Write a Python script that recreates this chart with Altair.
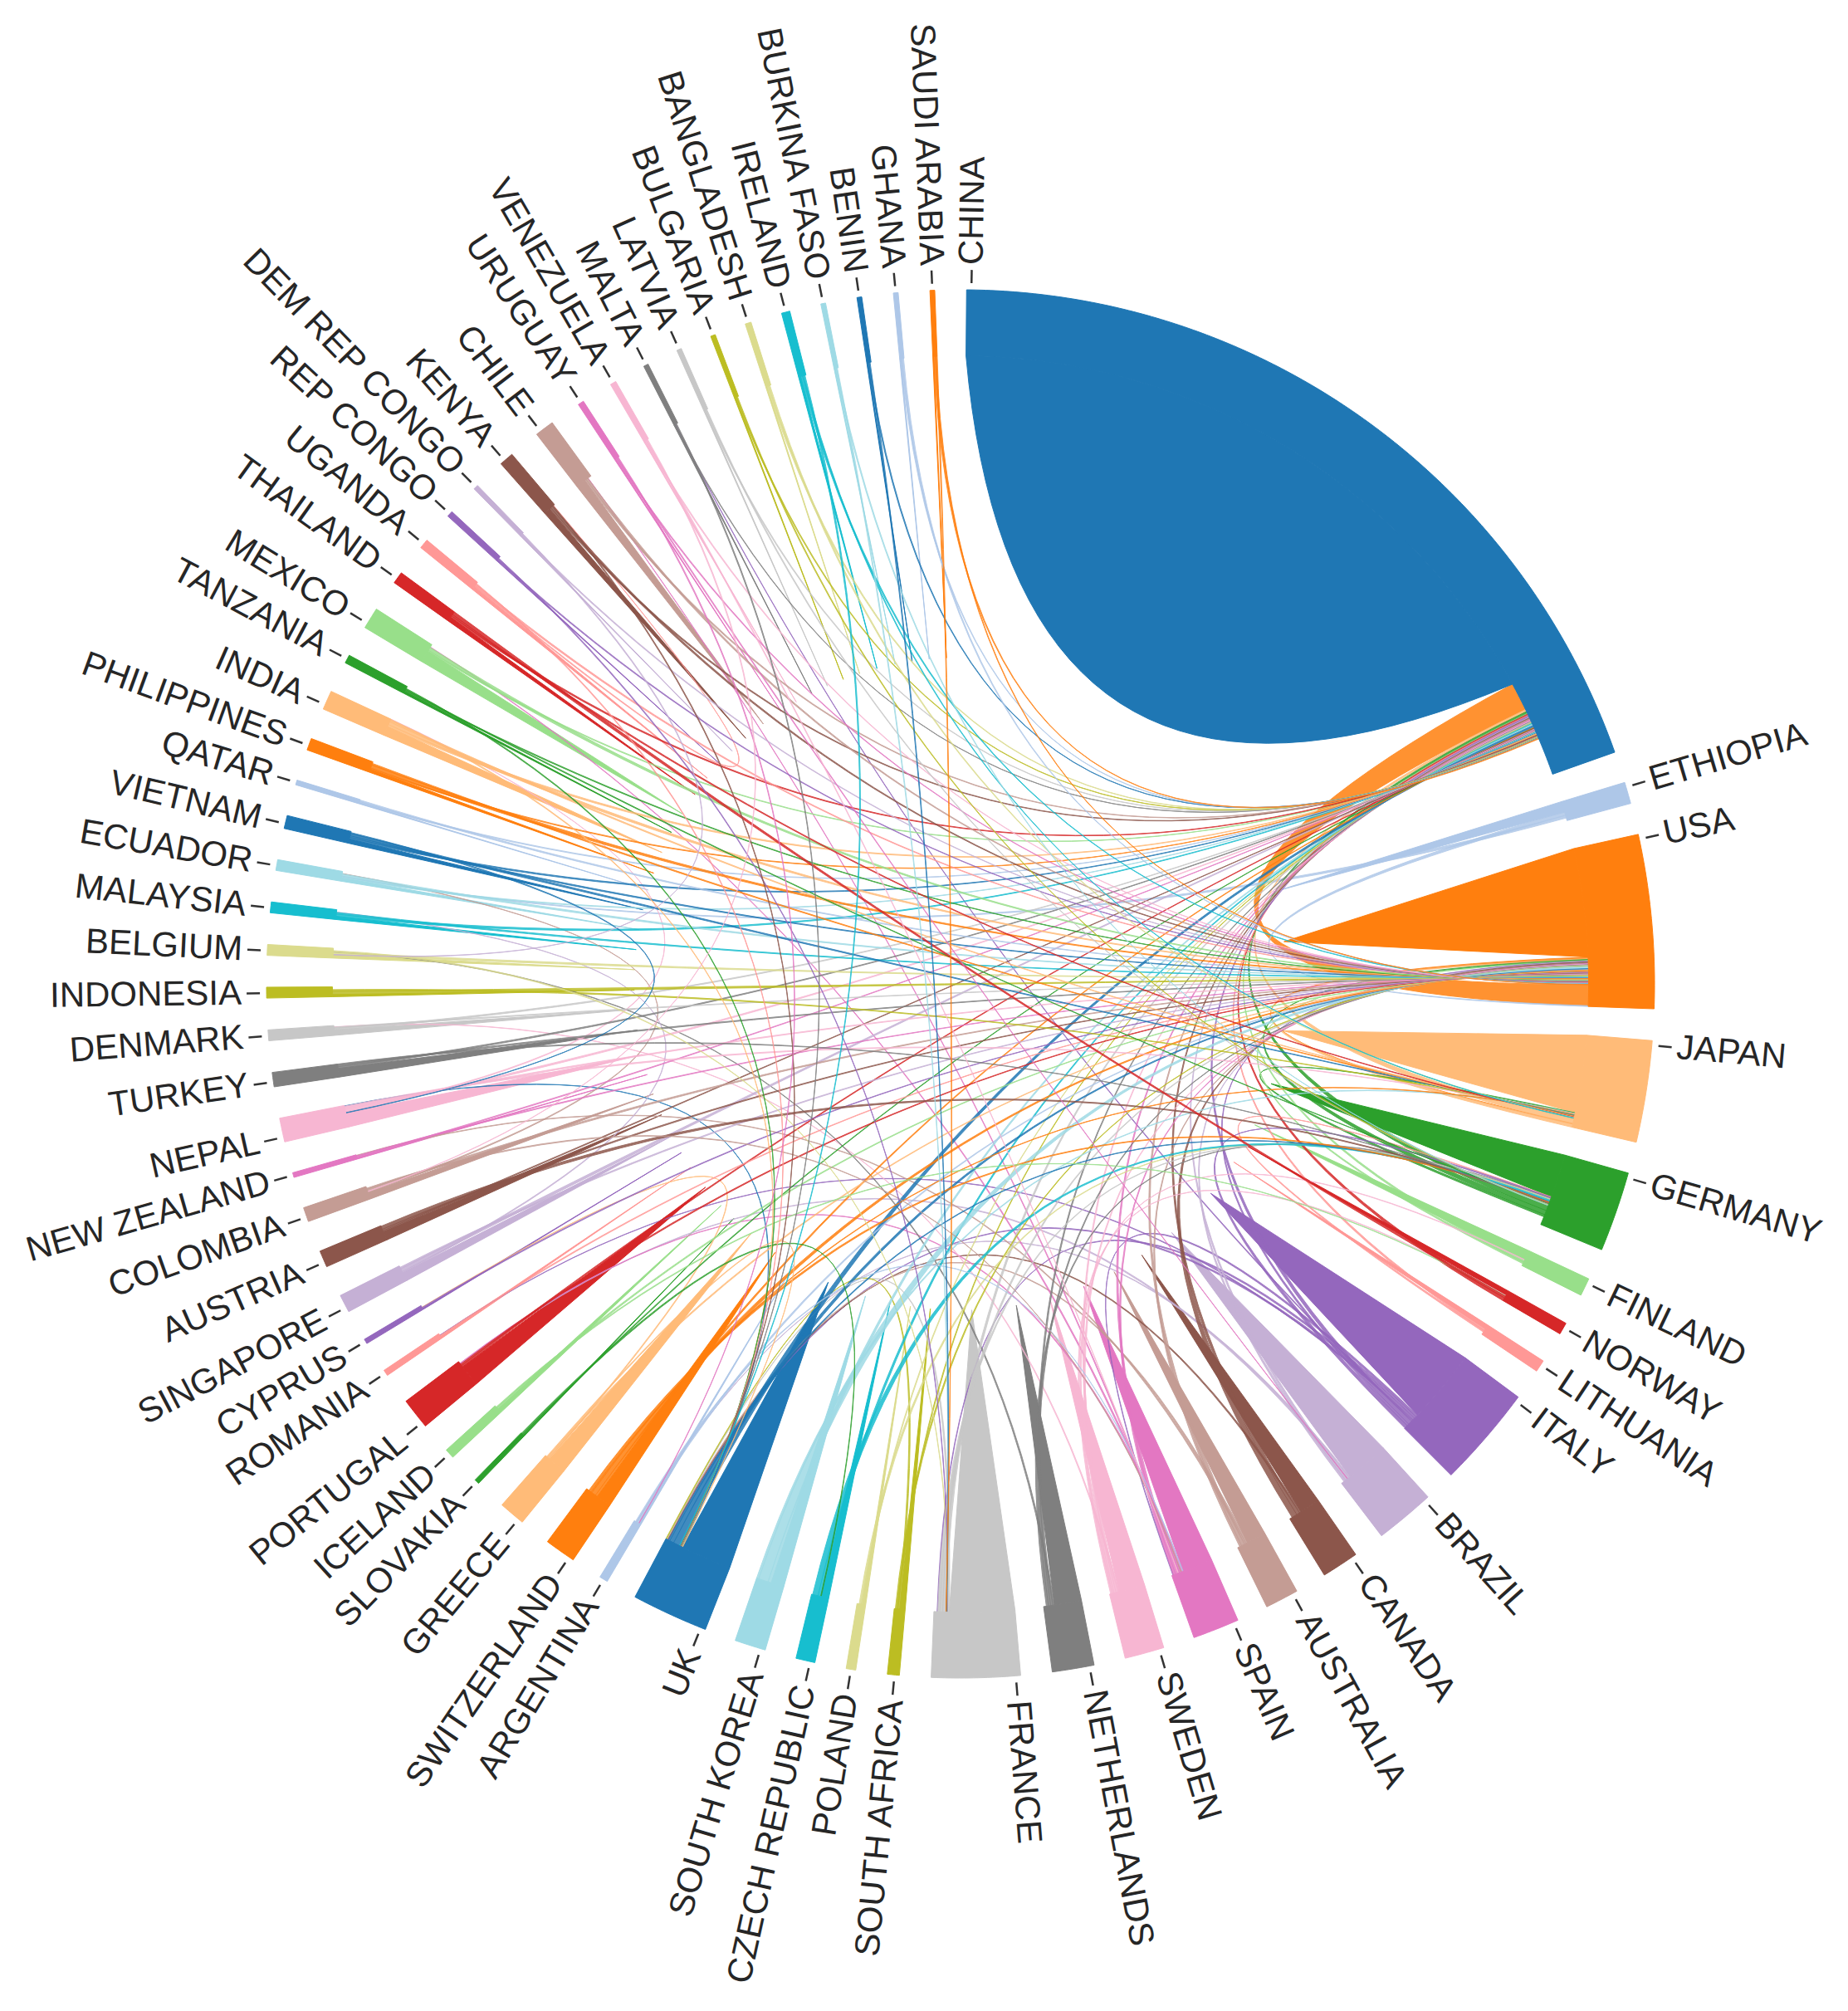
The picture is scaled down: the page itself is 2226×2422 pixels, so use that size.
import math
import pandas as pd
import altair as alt

alt.data_transformers.disable_max_rows()

# ---------------- data ----------------
COUNTRIES = ["CHINA", "ETHIOPIA", "USA", "JAPAN", "GERMANY", "FINLAND", "NORWAY", "LITHUANIA",
             "ITALY", "BRAZIL", "CANADA", "AUSTRALIA", "SPAIN", "SWEDEN", "NETHERLANDS", "FRANCE",
             "SOUTH AFRICA", "POLAND", "CZECH REPUBLIC", "SOUTH KOREA", "UK", "ARGENTINA",
             "SWITZERLAND", "GREECE", "SLOVAKIA", "ICELAND", "PORTUGAL", "ROMANIA", "CYPRUS",
             "SINGAPORE", "AUSTRIA", "COLOMBIA", "NEW ZEALAND", "NEPAL", "TURKEY", "DENMARK",
             "INDONESIA", "BELGIUM", "MALAYSIA", "ECUADOR", "VIETNAM", "QATAR", "PHILIPPINES",
             "INDIA", "TANZANIA", "MEXICO", "THAILAND", "UGANDA", "REP CONGO", "DEM REP CONGO",
             "KENYA", "CHILE", "URUGUAY", "VENEZUELA", "MALTA", "LATVIA", "BULGARIA", "BANGLADESH",
             "IRELAND", "BURKINA FASO", "BENIN", "GHANA", "SAUDI ARABIA"]

# sector sizes (degrees of the circle)
SPANS = [70.0, 1.8, 14.5, 8.5, 6.7, 1.5, 1.0, 1.0, 8.5, 5.0, 3.1, 2.8, 3.9, 3.3, 3.5, 7.4,
         1.0, 0.8, 1.6, 2.6, 6.4, 0.7, 2.6, 2.2, 0.4, 0.8, 2.6, 0.5, 0.4, 1.5, 1.4, 1.2, 0.4,
         2.0, 1.2, 0.9, 0.9, 0.9, 0.9, 0.9, 1.1, 0.4, 1.0, 1.6, 0.7, 1.8, 1.0, 0.8, 0.5, 0.4,
         1.2, 1.6, 0.5, 0.5, 0.4, 0.4, 0.4, 0.5, 0.7, 0.4, 0.4, 0.4, 0.4]

# domestic (self) collaboration share of each sector
SELF = [61.0, 1.0, 13.0, 7.4, 4.0, 0.9, 0.5, 0.4, 6.8, 4.0, 1.9, 1.8, 2.8, 2.4, 2.5, 6.0,
        0.5, 0.3, 0.7, 1.2, 4.8, 0.2, 1.4, 1.7, 0.1, 0.4, 2.0, 0.2, 0.1, 0.8, 0.8, 0.6, 0.1,
        1.3, 0.8, 0.5, 0.2, 0.3, 0.3, 0.3, 0.4, 0.1, 0.3, 0.9, 0.2, 1.1, 0.4, 0.3, 0.1, 0.1,
        0.6, 0.9, 0.1, 0.1, 0.1, 0.1, 0.1, 0.1, 0.2, 0.1, 0.1, 0.1, 0.1]

# links: source, target, width at source end, width at target end
LINKS = [
    ("USA", "CHINA", 2.5, 2.6), ("USA", "JAPAN", 0.2, 0.06),
    ("ETHIOPIA", "USA", 0.3, 0.09), ("ETHIOPIA", "ECUADOR", 0.25, 0.08),
    ("JAPAN", "CHINA", 0.5, 0.2), ("JAPAN", "USA", 0.3, 0.09),
    ("GERMANY", "CHINA", 0.5, 0.2), ("GERMANY", "USA", 0.4, 0.12), ("GERMANY", "JAPAN", 0.2, 0.06),
    ("FINLAND", "CHINA", 0.2, 0.06), ("FINLAND", "USA", 0.15, 0.05),
    ("NORWAY", "CHINA", 0.3, 0.12),
    ("LITHUANIA", "CHINA", 0.2, 0.06), ("LITHUANIA", "GERMANY", 0.15, 0.05),
    ("ITALY", "CHINA", 0.35, 0.14), ("ITALY", "USA", 0.2, 0.06), ("ITALY", "GERMANY", 0.3, 0.09),
    ("ITALY", "SPAIN", 0.2, 0.06), ("ITALY", "FRANCE", 0.2, 0.06), ("ITALY", "UK", 0.2, 0.06),
    ("ITALY", "MALTA", 0.1, 0.03), ("ITALY", "ROMANIA", 0.1, 0.03),
    ("BRAZIL", "USA", 0.2, 0.06), ("BRAZIL", "CHINA", 0.2, 0.06), ("BRAZIL", "PORTUGAL", 0.2, 0.06),
    ("BRAZIL", "ARGENTINA", 0.1, 0.03),
    ("CANADA", "USA", 0.5, 0.15), ("CANADA", "CHINA", 0.3, 0.09), ("CANADA", "UK", 0.15, 0.05),
    ("AUSTRALIA", "CHINA", 0.3, 0.09), ("AUSTRALIA", "USA", 0.2, 0.06),
    ("AUSTRALIA", "NEW ZEALAND", 0.15, 0.05), ("AUSTRALIA", "UK", 0.15, 0.05),
    ("SPAIN", "CHINA", 0.25, 0.1), ("SPAIN", "USA", 0.2, 0.06), ("SPAIN", "MEXICO", 0.15, 0.05),
    ("SPAIN", "CHILE", 0.1, 0.03), ("SPAIN", "PORTUGAL", 0.15, 0.05),
    ("SWEDEN", "CHINA", 0.2, 0.06), ("SWEDEN", "USA", 0.2, 0.06), ("SWEDEN", "FINLAND", 0.15, 0.05),
    ("SWEDEN", "NORWAY", 0.15, 0.05), ("SWEDEN", "DENMARK", 0.1, 0.03),
    ("NETHERLANDS", "CHINA", 0.2, 0.06), ("NETHERLANDS", "USA", 0.2, 0.06),
    ("NETHERLANDS", "GERMANY", 0.2, 0.06), ("NETHERLANDS", "BELGIUM", 0.15, 0.05),
    ("FRANCE", "CHINA", 0.3, 0.09), ("FRANCE", "USA", 0.25, 0.08), ("FRANCE", "GERMANY", 0.2, 0.06),
    ("FRANCE", "UK", 0.15, 0.05),
    ("SOUTH AFRICA", "UK", 0.15, 0.05), ("SOUTH AFRICA", "USA", 0.15, 0.05), ("SOUTH AFRICA", "CHINA", 0.1, 0.03),
    ("POLAND", "GERMANY", 0.2, 0.06), ("POLAND", "CHINA", 0.1, 0.03),
    ("CZECH REPUBLIC", "GERMANY", 0.5, 0.15), ("CZECH REPUBLIC", "CHINA", 0.25, 0.1),
    ("SOUTH KOREA", "USA", 0.9, 0.27), ("SOUTH KOREA", "CHINA", 0.3, 0.12), ("SOUTH KOREA", "JAPAN", 0.2, 0.06),
    ("UK", "CHINA", 0.6, 0.2), ("UK", "USA", 0.4, 0.12), ("UK", "GERMANY", 0.15, 0.05), ("UK", "NEPAL", 0.1, 0.03),
    ("ARGENTINA", "USA", 0.2, 0.06), ("ARGENTINA", "SPAIN", 0.1, 0.03),
    ("SWITZERLAND", "USA", 0.4, 0.12), ("SWITZERLAND", "GERMANY", 0.25, 0.08),
    ("SWITZERLAND", "CHINA", 0.2, 0.06), ("SWITZERLAND", "JAPAN", 0.1, 0.03),
    ("GREECE", "USA", 0.15, 0.05), ("GREECE", "UK", 0.1, 0.03), ("GREECE", "CYPRUS", 0.1, 0.03),
    ("SLOVAKIA", "CZECH REPUBLIC", 0.15, 0.05), ("SLOVAKIA", "CHINA", 0.1, 0.03),
    ("ICELAND", "USA", 0.15, 0.05), ("ICELAND", "NORWAY", 0.1, 0.03),
    ("PORTUGAL", "USA", 0.15, 0.05), ("PORTUGAL", "CHINA", 0.15, 0.05),
    ("ROMANIA", "USA", 0.1, 0.03),
    ("CYPRUS", "USA", 0.1, 0.03),
    ("SINGAPORE", "CHINA", 0.3, 0.09), ("SINGAPORE", "USA", 0.15, 0.05), ("SINGAPORE", "MALAYSIA", 0.1, 0.03),
    ("AUSTRIA", "GERMANY", 0.3, 0.09), ("AUSTRIA", "USA", 0.15, 0.05), ("AUSTRIA", "CHINA", 0.1, 0.03),
    ("COLOMBIA", "USA", 0.2, 0.06), ("COLOMBIA", "ECUADOR", 0.1, 0.03), ("COLOMBIA", "SPAIN", 0.1, 0.03),
    ("NEW ZEALAND", "USA", 0.1, 0.03), ("NEW ZEALAND", "CHINA", 0.1, 0.03),
    ("NEPAL", "CHINA", 0.2, 0.06), ("NEPAL", "USA", 0.15, 0.05), ("NEPAL", "JAPAN", 0.15, 0.05),
    ("NEPAL", "INDIA", 0.1, 0.03),
    ("TURKEY", "USA", 0.15, 0.05), ("TURKEY", "CHINA", 0.15, 0.05), ("TURKEY", "GERMANY", 0.1, 0.03),
    ("DENMARK", "CHINA", 0.15, 0.05), ("DENMARK", "USA", 0.1, 0.03),
    ("INDONESIA", "USA", 0.3, 0.09), ("INDONESIA", "JAPAN", 0.15, 0.05),
    ("BELGIUM", "USA", 0.2, 0.06), ("BELGIUM", "FRANCE", 0.1, 0.03),
    ("MALAYSIA", "CHINA", 0.2, 0.06), ("MALAYSIA", "USA", 0.15, 0.05),
    ("ECUADOR", "USA", 0.2, 0.06), ("ECUADOR", "CHINA", 0.1, 0.03),
    ("VIETNAM", "NEPAL", 0.1, 0.03), ("VIETNAM", "JAPAN", 0.2, 0.06), ("VIETNAM", "USA", 0.15, 0.05),
    ("VIETNAM", "CHINA", 0.15, 0.05),
    ("QATAR", "USA", 0.15, 0.05), ("QATAR", "CHINA", 0.1, 0.03),
    ("PHILIPPINES", "USA", 0.3, 0.09), ("PHILIPPINES", "JAPAN", 0.15, 0.05), ("PHILIPPINES", "CHINA", 0.1, 0.03),
    ("INDIA", "USA", 0.3, 0.09), ("INDIA", "CHINA", 0.2, 0.06), ("INDIA", "JAPAN", 0.15, 0.05),
    ("INDIA", "UK", 0.1, 0.03),
    ("TANZANIA", "GERMANY", 0.1, 0.03), ("TANZANIA", "USA", 0.1, 0.03), ("TANZANIA", "UK", 0.1, 0.03),
    ("MEXICO", "USA", 0.3, 0.09), ("MEXICO", "CHINA", 0.1, 0.03),
    ("THAILAND", "NORWAY", 0.3, 0.2), ("THAILAND", "JAPAN", 0.15, 0.05), ("THAILAND", "CHINA", 0.15, 0.05),
    ("UGANDA", "USA", 0.15, 0.05), ("UGANDA", "UK", 0.1, 0.03), ("UGANDA", "KENYA", 0.1, 0.03),
    ("REP CONGO", "FRANCE", 0.1, 0.03), ("REP CONGO", "USA", 0.1, 0.03),
    ("DEM REP CONGO", "BELGIUM", 0.1, 0.03), ("DEM REP CONGO", "USA", 0.1, 0.03),
    ("KENYA", "USA", 0.2, 0.06), ("KENYA", "CHINA", 0.15, 0.05), ("KENYA", "UK", 0.1, 0.03),
    ("CHILE", "USA", 0.2, 0.06), ("CHILE", "CHINA", 0.15, 0.05),
    ("URUGUAY", "BRAZIL", 0.1, 0.03), ("URUGUAY", "USA", 0.1, 0.03), ("URUGUAY", "ARGENTINA", 0.1, 0.03),
    ("VENEZUELA", "USA", 0.1, 0.03), ("VENEZUELA", "SPAIN", 0.1, 0.03), ("VENEZUELA", "COLOMBIA", 0.1, 0.03),
    ("MALTA", "UK", 0.1, 0.03), ("MALTA", "CHINA", 0.05, 0.02),
    ("LATVIA", "GERMANY", 0.1, 0.03), ("LATVIA", "CHINA", 0.1, 0.03),
    ("BULGARIA", "GERMANY", 0.1, 0.03), ("BULGARIA", "CHINA", 0.1, 0.03),
    ("BANGLADESH", "JAPAN", 0.15, 0.05), ("BANGLADESH", "CHINA", 0.15, 0.05),
    ("IRELAND", "USA", 0.15, 0.05), ("IRELAND", "UK", 0.15, 0.05), ("IRELAND", "JAPAN", 0.1, 0.03),
    ("BURKINA FASO", "FRANCE", 0.1, 0.03), ("BURKINA FASO", "GERMANY", 0.1, 0.03),
    ("BENIN", "FRANCE", 0.1, 0.03), ("BENIN", "CHINA", 0.1, 0.03),
    ("GHANA", "USA", 0.15, 0.05), ("GHANA", "CHINA", 0.1, 0.03),
    ("SAUDI ARABIA", "FRANCE", 0.1, 0.03), ("SAUDI ARABIA", "CHINA", 0.15, 0.05), ("SAUDI ARABIA", "USA", 0.1, 0.03),
]

assert len(COUNTRIES) == len(SPANS) == len(SELF) == 63

# ---------------- layout ----------------
W, H = 2210, 2406
CX, CY = 1149.0, 1177.0
R = 836.0
R_IN = 0.905 * R
TIP_R = 0.47 * R
START = 0.5

n = len(COUNTRIES)
idx = {c: i for i, c in enumerate(COUNTRIES)}
gap = (360.0 - sum(SPANS)) / n
starts = []
a = START
for s in SPANS:
    starts.append(a)
    a += s + gap
mids = [starts[i] + SPANS[i] / 2 for i in range(n)]


def P(deg, r):
    t = math.radians(deg)
    return (CX + r * math.sin(t), CY - r * math.cos(t))


def arc(a0, a1, r, step=0.4):
    m = max(2, int(abs(a1 - a0) / step) + 2)
    return [P(a0 + (a1 - a0) * q / (m - 1), r) for q in range(m)]


def qbez(p0, c, p2, m=40):
    out = []
    for q in range(m):
        t = q / (m - 1)
        out.append(((1 - t) ** 2 * p0[0] + 2 * t * (1 - t) * c[0] + t * t * p2[0],
                    (1 - t) ** 2 * p0[1] + 2 * t * (1 - t) * c[1] + t * t * p2[1]))
    return out


ends = {i: [] for i in range(n)}
for k, (s, t, ws, wt) in enumerate(LINKS):
    i, j = idx[s], idx[t]
    ends[i].append((k, "s", j, ws))
    ends[j].append((k, "t", i, wt))

pos = {}
tongue = {}
for i in range(n):
    lst = sorted(ends[i], key=lambda e: (mids[e[2]] - mids[i]) % 360)
    total = SELF[i] + sum(e[3] for e in lst)
    sc = min(1.0, SPANS[i] / total)
    a = starts[i]
    tongue[i] = (a, a + SELF[i] * sc)
    a += SELF[i] * sc
    for e in lst:
        w = e[3] * sc
        pos[(e[0], e[1])] = (a, a + w)
        a += w

rows = {"tongue": [], "links": [], "china": [], "rings": []}


def add(group, pid, country, pts):
    pts = pts + [pts[0]]
    for o, (x, y) in enumerate(pts):
        rows[group].append({"pid": pid, "country": country, "ord": o, "x": x, "y": y})


# self tongues
for i in range(n):
    a0, a1 = tongue[i]
    if a1 - a0 <= 0:
        continue
    base = arc(a0, a1, R_IN)
    if a1 - a0 > 30:
        ctrl = P((a0 + a1) / 2, 0.15 * R)
        pts = base + qbez(P(a1, R_IN), ctrl, P(a0, R_IN))[1:-1]
        add("china", f"t{i}", COUNTRIES[i], pts)
    else:
        pts = base + [P((a0 + a1) / 2, TIP_R)]
        add("tongue", f"t{i}", COUNTRIES[i], pts)

# links between countries
centre = (CX, CY)
for k, (s, t, ws, wt) in enumerate(LINKS):
    s0, s1 = pos[(k, "s")]
    t0, t1 = pos[(k, "t")]
    pts = (arc(s0, s1, R_IN, 0.1) + qbez(P(s1, R_IN), centre, P(t0, R_IN))[1:-1]
           + arc(t0, t1, R_IN, 0.1) + qbez(P(t1, R_IN), centre, P(s0, R_IN))[1:-1])
    add("links", f"l{k}", s, pts)

# outer ring
for i in range(n):
    a0, a1 = starts[i], starts[i] + SPANS[i]
    pts = arc(a0, a1, R) + arc(a1, a0, R_IN)
    add("rings", f"r{i}", COUNTRIES[i], pts)

# ticks & labels
ticks, labs_r, labs_l = [], [], []
for i in range(n):
    b = starts[i] + min(0.4, SPANS[i] / 2)
    x1, y1 = P(b, R + 8)
    x2, y2 = P(b, R + 24)
    ticks.append({"x": x1, "y": y1, "x2": x2, "y2": y2})
    lx, ly = P(b, R + 30)
    if b < 180:
        labs_r.append({"x": lx, "y": ly, "ang": (b - 90) % 360, "name": COUNTRIES[i]})
    else:
        labs_l.append({"x": lx, "y": ly, "ang": (b - 270) % 360, "name": COUNTRIES[i]})

# ---------------- chart ----------------
xs = alt.X("x:Q", scale=alt.Scale(domain=[0, W], nice=False, zero=False), axis=None)
ys = alt.Y("y:Q", scale=alt.Scale(domain=[0, H], nice=False, zero=False, reverse=True), axis=None)
col = alt.Scale(domain=COUNTRIES, scheme="category20")


def poly_layer(name, sw, op):
    df = pd.DataFrame(rows[name])
    return alt.Chart(df).mark_line(strokeWidth=sw, opacity=op, strokeJoin="round").encode(
        x=xs, y=ys,
        order=alt.Order("ord:Q"),
        detail="pid:N",
        fill=alt.Fill("country:N", scale=col, legend=None),
        stroke=alt.Stroke("country:N", scale=col, legend=None),
    )


tick_layer = alt.Chart(pd.DataFrame(ticks)).mark_rule(color="#333333", strokeWidth=2.5).encode(
    x=xs, y=ys, x2="x2:Q", y2="y2:Q")

text_style = dict(baseline="middle", font="Liberation Sans", fontSize=42, color="#262626")
lab_r = alt.Chart(pd.DataFrame(labs_r)).mark_text(align="left", **text_style).encode(
    x=xs, y=ys, text="name:N", angle=alt.Angle("ang:Q", scale=None))
lab_l = alt.Chart(pd.DataFrame(labs_l)).mark_text(align="right", **text_style).encode(
    x=xs, y=ys, text="name:N", angle=alt.Angle("ang:Q", scale=None))

chart = alt.layer(
    poly_layer("tongue", 1.0, 1.0),
    poly_layer("links", 1.0, 0.85),
    poly_layer("china", 1.0, 1.0),
    poly_layer("rings", 1.0, 1.0),
    tick_layer, lab_r, lab_l,
).properties(
    width=W, height=H, padding=0, autosize=alt.AutoSizeParams(type="none"), background="white"
).configure_view(stroke=None)

chart.save("out.html", embed_options={"renderer": "svg", "actions": False})
